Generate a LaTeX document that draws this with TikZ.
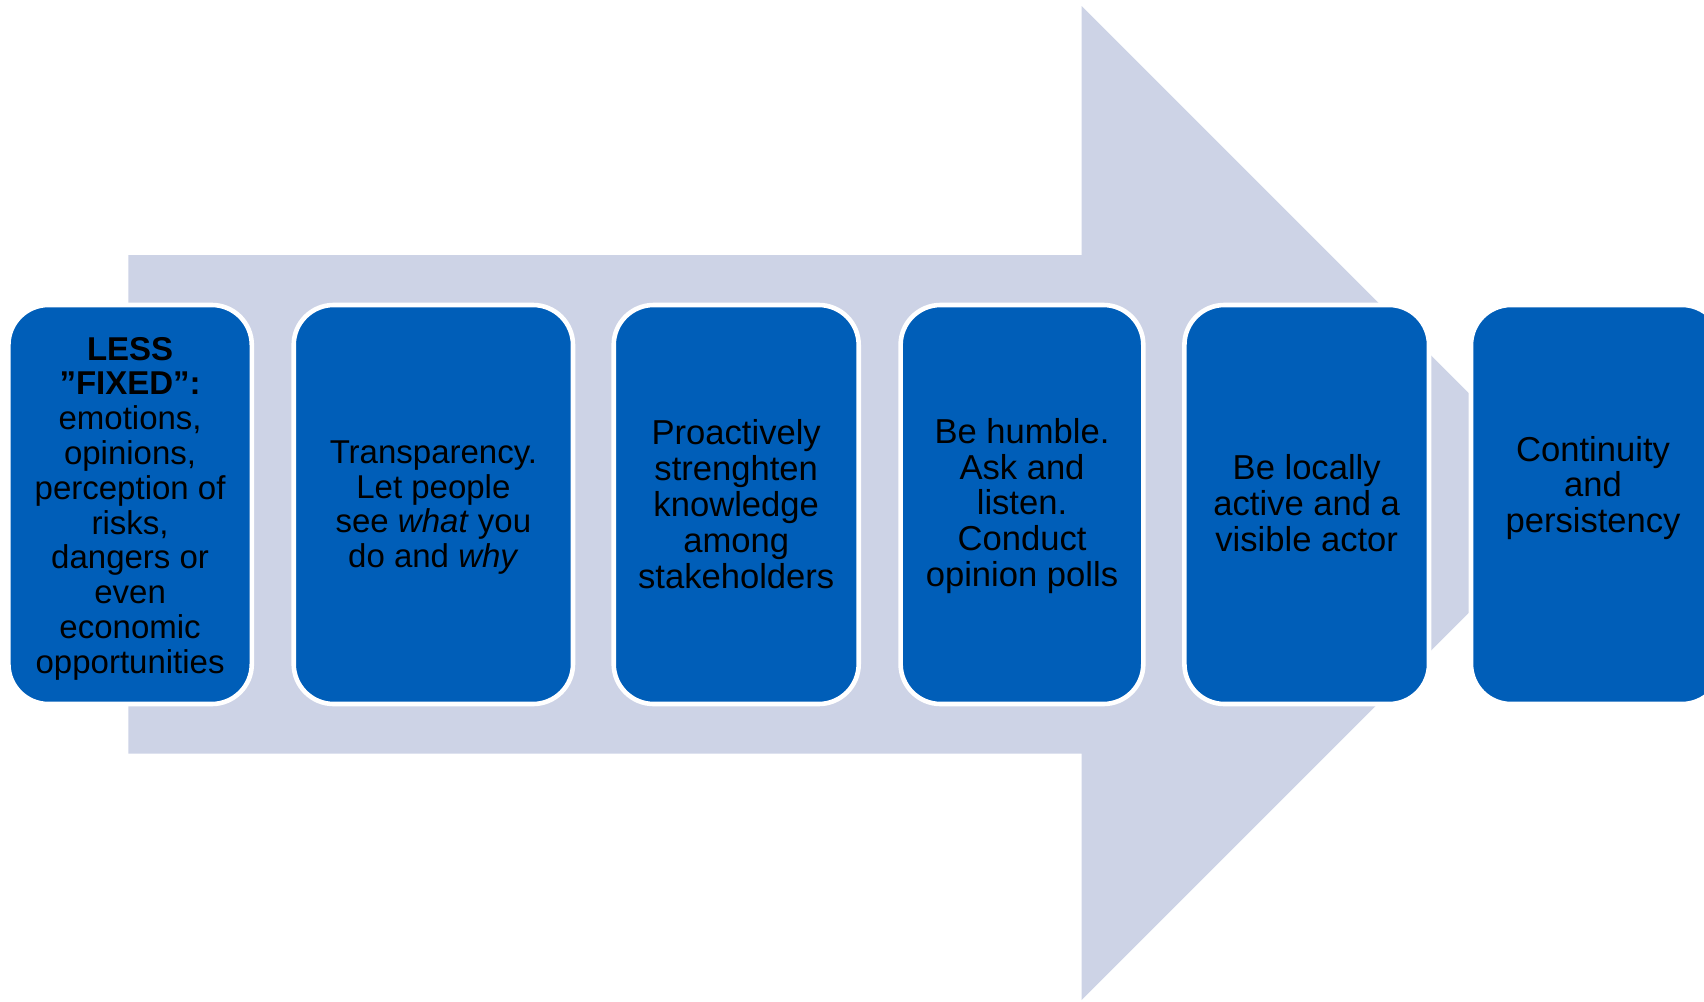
\documentclass[tikz,border=0pt]{standalone}
\usepackage{fontspec}
\setmainfont{Liberation Sans}
\definecolor{boxblue}{RGB}{0,94,184}
\definecolor{arrowgrey}{RGB}{205,211,230}
\tikzset{
  x=1pt, y=-1pt,
  stagebox/.style={draw=white, line width=4.6pt, fill=boxblue, rounded corners=40pt, inner sep=0pt},
  smalltxt/.style={align=center, text=black, inner sep=0pt, font=\fontsize{33}{34.8}\selectfont},
  bigtxt/.style={align=center, text=black, inner sep=0pt, font=\fontsize{34.6}{35.9}\selectfont}
}
\begin{document}
\begin{tikzpicture}
\useasboundingbox (0,0) rectangle (1704,1001);
% big background arrow
\fill[arrowgrey] (128.3,255) -- (1081.7,255) -- (1081.7,6) -- (1578.7,503)
  -- (1081.7,1000) -- (1081.7,753.5) -- (128.3,753.5) -- cycle;
% boxes
\draw[stagebox] (8.4,305) rectangle (251.8,704);
\draw[stagebox] (293.7,305) rectangle (573,704);
\draw[stagebox] (613.7,305) rectangle (858.7,704);
\draw[stagebox] (900.6,305) rectangle (1143.3,704);
\draw[stagebox] (1184.4,305) rectangle (1429,704);
\draw[stagebox] (1471,305) rectangle (1722,704);
% texts
\node[smalltxt] (t1) at (130.1,508.5) {\textbf{LESS}\\\textbf{”FIXED”:}\\emotions,\\opinions,\\perception of\\risks,\\dangers or\\even\\economic\\opportunities};
\node[smalltxt] (t2) at (433.4,507.5) {Transparency.\\Let people\\see \textit{what} you\\do and \textit{why}};
\node[bigtxt] (t3) at (736.2,504) {Proactively\\strenghten\\knowledge\\among\\stakeholders};
\node[bigtxt] (t4) at (1022,506) {Be humble.\\Ask and\\listen.\\Conduct\\opinion polls};
\node[bigtxt] (t5) at (1306.7,503) {Be locally\\active and a\\visible actor};
\node[bigtxt] (t6) at (1593,488) {Continuity\\and\\persistency};
\end{tikzpicture}
\end{document}
